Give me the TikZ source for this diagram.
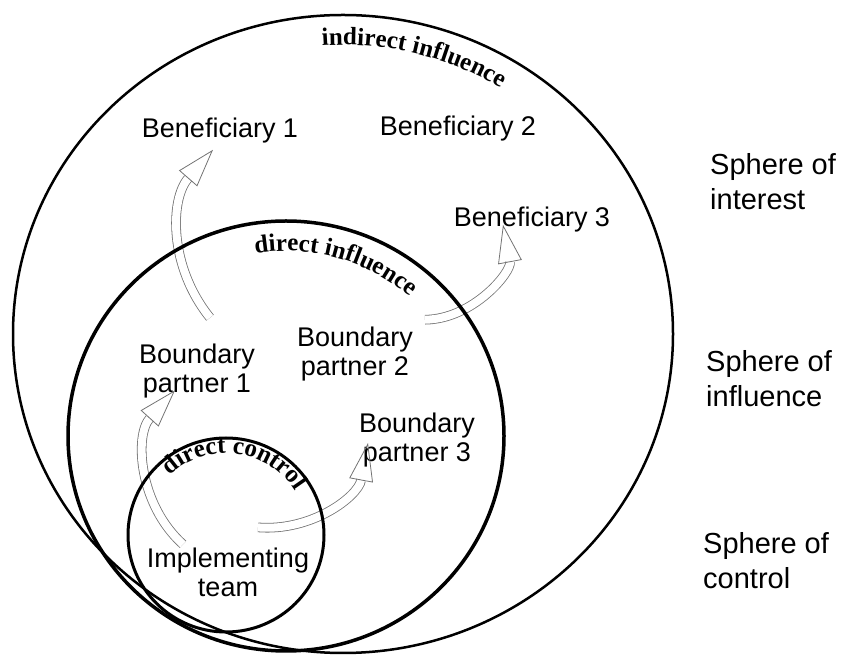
\documentclass[tikz,border=0pt]{standalone}
\usepackage{fontspec}
\setmainfont{Liberation Sans}
\newfontfamily\arcfont{Liberation Serif}
\usetikzlibrary{decorations.text,arrows.meta}
\newcommand\arclabelfont{\arcfont\bfseries\fontsize{25}{25}\selectfont}

\begin{document}
\begin{tikzpicture}[
    x=1pt, y=1pt,
    lbl/.style={align=center, inner sep=0pt, font=\fontsize{27}{29}\selectfont},
    sphere/.style={align=left, anchor=west, inner sep=0pt, font=\fontsize{29}{35}\selectfont},
    blockarr/.style={draw=black!55, line width=0.8pt, double=white, double distance=8pt,
        -{Triangle[open, line width=0.8pt, length=38pt, width=24pt]}},
    arclbl/.style={decorate, decoration={text along path, text align=center, text={|\arclabelfont|#1}}}
]
    \useasboundingbox (0,0) rectangle (843,655);

    % --- labels inside the spheres ---
    \node[lbl] (ben1) at (220,524) {Beneficiary 1};
    \node[lbl] (ben2) at (458,526) {Beneficiary 2};
    \node[lbl] (ben3) at (532,435) {Beneficiary 3};
    \node[lbl] (bp1) at (197,284) {Boundary\\partner 1};
    \node[lbl] (bp2) at (355,301) {Boundary\\partner 2};
    \node[lbl] (bp3) at (417,215) {Boundary\\partner 3};
    \node[lbl] (team) at (228,83) {Implementing\\team};

    % --- sphere names on the right ---
    \node[sphere] (sint) at (710,473) {Sphere of\\interest};
    \node[sphere] (sinf) at (706,276) {Sphere of\\influence};
    \node[sphere] (sctl) at (703,94) {Sphere of\\control};

    % --- curved block arrows ---
    \draw[blockarr] ([shift={(13,26)}]bp1.north) to[bend left=40] ([shift={(-7,-6)}]ben1.south);
    \draw[blockarr] ([shift={(-45,3)}]team.north) to[bend left=45] ([shift={(-22,8)}]bp1.south);
    \draw[blockarr] ([shift={(12,7)}]bp2.north east) to[bend right=50] ([shift={(-29,8)}]ben3.south);
    \draw[blockarr] ([shift={(30,20)}]team.north) to[bend right=42] ([shift={(9,-3)}]bp3.west);

    % --- the three spheres ---
    \draw[line width=2.5pt] (343,321) ellipse [x radius=330pt, y radius=319pt];
    \draw[line width=3.5pt] (286,219) ellipse [x radius=218pt, y radius=215pt];
    \draw[line width=3pt] (226,120) ellipse [x radius=98pt, y radius=97pt];

    % --- curved names along the spheres ---
    \path[arclbl={indirect influence}] (343,321) ++(110:300pt and 289pt)
        arc[start angle=110, end angle=42, x radius=300pt, y radius=289pt];
    \path[arclbl={direct influence}] (286,219) ++(115:188pt and 185pt)
        arc[start angle=115, end angle=33, x radius=188pt, y radius=185pt];
    \path[arclbl={direct control}] (226,120) ++(150:82pt)
        arc[start angle=150, end angle=16, radius=82pt];
\end{tikzpicture}
\end{document}
